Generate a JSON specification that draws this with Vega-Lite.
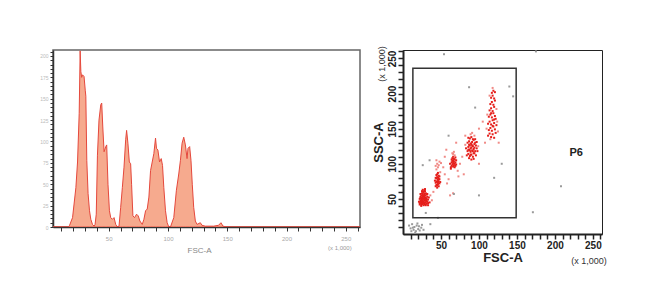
{
  "$schema": "https://vega.github.io/schema/vega-lite/v6.json",
  "background": "white",
  "padding": {"left": 38, "top": 45, "right": 0, "bottom": 0},
  "spacing": 10,
  "config": {
    "view": {"stroke": "#555", "strokeWidth": 1},
    "axis": {"grid": false, "labelFont": "Liberation Sans", "titleFont": "Liberation Sans"},
    "text": {"font": "Liberation Sans"}
  },
  "datasets": {
    "hist": [
      {"fsc": 3, "count": 0}, {"fsc": 16, "count": 0}, {"fsc": 17, "count": 2}, {"fsc": 19.5, "count": 11},
      {"fsc": 22.3, "count": 46}, {"fsc": 23.7, "count": 76}, {"fsc": 25.1, "count": 133}, {"fsc": 25.9, "count": 206},
      {"fsc": 26.5, "count": 182}, {"fsc": 27.2, "count": 175}, {"fsc": 27.9, "count": 178}, {"fsc": 29.2, "count": 176},
      {"fsc": 30.2, "count": 160}, {"fsc": 30.7, "count": 153}, {"fsc": 31.5, "count": 78}, {"fsc": 32.6, "count": 39},
      {"fsc": 33.8, "count": 19}, {"fsc": 34.9, "count": 9}, {"fsc": 36.3, "count": 3}, {"fsc": 37.7, "count": 1},
      {"fsc": 38.5, "count": 3}, {"fsc": 39.5, "count": 15}, {"fsc": 40.5, "count": 84}, {"fsc": 41.8, "count": 125},
      {"fsc": 43.3, "count": 143}, {"fsc": 44.1, "count": 145}, {"fsc": 45, "count": 117}, {"fsc": 46.1, "count": 88},
      {"fsc": 47.5, "count": 94}, {"fsc": 48.3, "count": 96}, {"fsc": 49.4, "count": 50}, {"fsc": 50.6, "count": 19},
      {"fsc": 51.7, "count": 11}, {"fsc": 53.1, "count": 9}, {"fsc": 54.5, "count": 11}, {"fsc": 55.9, "count": 3},
      {"fsc": 57.3, "count": 0}, {"fsc": 58.7, "count": 1}, {"fsc": 60.1, "count": 23}, {"fsc": 61.5, "count": 46},
      {"fsc": 62.9, "count": 70}, {"fsc": 64.3, "count": 102}, {"fsc": 65.1, "count": 113}, {"fsc": 66.2, "count": 98},
      {"fsc": 67.4, "count": 76}, {"fsc": 68.5, "count": 74}, {"fsc": 69.3, "count": 50}, {"fsc": 70.4, "count": 13},
      {"fsc": 71.8, "count": 11}, {"fsc": 73.5, "count": 15}, {"fsc": 74.9, "count": 13}, {"fsc": 76.3, "count": 7},
      {"fsc": 78.3, "count": 3}, {"fsc": 79.7, "count": 9}, {"fsc": 81.1, "count": 19}, {"fsc": 82.5, "count": 21},
      {"fsc": 83.9, "count": 35}, {"fsc": 85.3, "count": 66}, {"fsc": 86.7, "count": 76}, {"fsc": 88.1, "count": 86},
      {"fsc": 89.5, "count": 104}, {"fsc": 90.3, "count": 92}, {"fsc": 91.5, "count": 90}, {"fsc": 92.9, "count": 76},
      {"fsc": 94.3, "count": 80}, {"fsc": 95.4, "count": 72}, {"fsc": 96.5, "count": 46}, {"fsc": 97.9, "count": 19},
      {"fsc": 99.3, "count": 5}, {"fsc": 100.7, "count": 0}, {"fsc": 102.1, "count": 0}, {"fsc": 104.9, "count": 11},
      {"fsc": 107.1, "count": 43}, {"fsc": 109.1, "count": 62}, {"fsc": 110.5, "count": 78}, {"fsc": 111.9, "count": 98},
      {"fsc": 113.3, "count": 105}, {"fsc": 114.7, "count": 96}, {"fsc": 116.1, "count": 80}, {"fsc": 116.9, "count": 92},
      {"fsc": 118.3, "count": 94}, {"fsc": 119.4, "count": 78}, {"fsc": 120.5, "count": 50}, {"fsc": 121.7, "count": 23},
      {"fsc": 123.1, "count": 7}, {"fsc": 124.5, "count": 3}, {"fsc": 127.3, "count": 5}, {"fsc": 128.7, "count": 2},
      {"fsc": 131.5, "count": 1}, {"fsc": 138.5, "count": 1}, {"fsc": 142.7, "count": 2}, {"fsc": 144.7, "count": 5},
      {"fsc": 146.4, "count": 1}, {"fsc": 149.8, "count": 0}, {"fsc": 262, "count": 0}
    ],
    "scatter": [
      {"fsc": 22, "ssc": 44, "pop": "P"}, {"fsc": 23, "ssc": 47, "pop": "P"}, {"fsc": 24, "ssc": 42, "pop": "P"}, {"fsc": 25, "ssc": 45, "pop": "P"},
      {"fsc": 26, "ssc": 43, "pop": "P"}, {"fsc": 27, "ssc": 46, "pop": "P"}, {"fsc": 28, "ssc": 44, "pop": "P"}, {"fsc": 29, "ssc": 42, "pop": "P"},
      {"fsc": 30, "ssc": 45, "pop": "P"}, {"fsc": 31, "ssc": 43, "pop": "P"}, {"fsc": 32, "ssc": 46, "pop": "P"}, {"fsc": 33, "ssc": 44, "pop": "P"},
      {"fsc": 22, "ssc": 50, "pop": "P"}, {"fsc": 23, "ssc": 53, "pop": "P"}, {"fsc": 24, "ssc": 49, "pop": "P"}, {"fsc": 25, "ssc": 52, "pop": "P"},
      {"fsc": 26, "ssc": 50, "pop": "P"}, {"fsc": 27, "ssc": 54, "pop": "P"}, {"fsc": 28, "ssc": 51, "pop": "P"}, {"fsc": 29, "ssc": 48, "pop": "P"},
      {"fsc": 30, "ssc": 52, "pop": "P"}, {"fsc": 31, "ssc": 50, "pop": "P"}, {"fsc": 32, "ssc": 53, "pop": "P"}, {"fsc": 23, "ssc": 57, "pop": "P"},
      {"fsc": 24, "ssc": 55, "pop": "P"}, {"fsc": 25, "ssc": 58, "pop": "P"}, {"fsc": 26, "ssc": 56, "pop": "P"}, {"fsc": 27, "ssc": 59, "pop": "P"},
      {"fsc": 28, "ssc": 57, "pop": "P"}, {"fsc": 29, "ssc": 55, "pop": "P"}, {"fsc": 30, "ssc": 58, "pop": "P"}, {"fsc": 31, "ssc": 56, "pop": "P"},
      {"fsc": 25, "ssc": 61, "pop": "P"}, {"fsc": 26, "ssc": 63, "pop": "P"}, {"fsc": 27, "ssc": 60, "pop": "P"}, {"fsc": 28, "ssc": 62, "pop": "P"},
      {"fsc": 29, "ssc": 61, "pop": "P"}, {"fsc": 24, "ssc": 40, "pop": "P"}, {"fsc": 27, "ssc": 41, "pop": "P"}, {"fsc": 30, "ssc": 41, "pop": "P"},
      {"fsc": 33, "ssc": 49, "pop": "P"}, {"fsc": 34, "ssc": 52, "pop": "P"}, {"fsc": 21, "ssc": 46, "pop": "P"}, {"fsc": 22, "ssc": 42, "pop": "P"},
      {"fsc": 26, "ssc": 47, "pop": "P"}, {"fsc": 28, "ssc": 48, "pop": "P"}, {"fsc": 25, "ssc": 48, "pop": "P"}, {"fsc": 29, "ssc": 51, "pop": "P"},
      {"fsc": 27, "ssc": 50, "pop": "P"}, {"fsc": 24, "ssc": 46, "pop": "P"}, {"fsc": 30, "ssc": 48, "pop": "P"}, {"fsc": 31, "ssc": 47, "pop": "P"},
      {"fsc": 26, "ssc": 54, "pop": "P"}, {"fsc": 28, "ssc": 55, "pop": "P"}, {"fsc": 23, "ssc": 51, "pop": "P"}, {"fsc": 32, "ssc": 57, "pop": "P"},
      {"fsc": 33, "ssc": 41, "pop": "P"}, {"fsc": 35, "ssc": 45, "pop": "P"}, {"fsc": 29, "ssc": 64, "pop": "P"}, {"fsc": 26, "ssc": 45, "pop": "P"},
      {"fsc": 23, "ssc": 44, "pop": "P"}, {"fsc": 25, "ssc": 43, "pop": "P"}, {"fsc": 27, "ssc": 44, "pop": "P"}, {"fsc": 29, "ssc": 45, "pop": "P"},
      {"fsc": 24, "ssc": 51, "pop": "P"}, {"fsc": 26, "ssc": 52, "pop": "P"}, {"fsc": 28, "ssc": 53, "pop": "P"}, {"fsc": 30, "ssc": 50, "pop": "P"},
      {"fsc": 43, "ssc": 68, "pop": "P"}, {"fsc": 44, "ssc": 70, "pop": "P"}, {"fsc": 45, "ssc": 69, "pop": "P"}, {"fsc": 46, "ssc": 71, "pop": "P"},
      {"fsc": 47, "ssc": 68, "pop": "P"}, {"fsc": 48, "ssc": 72, "pop": "P"}, {"fsc": 43, "ssc": 73, "pop": "P"}, {"fsc": 44, "ssc": 75, "pop": "P"},
      {"fsc": 45, "ssc": 74, "pop": "P"}, {"fsc": 46, "ssc": 77, "pop": "P"}, {"fsc": 47, "ssc": 75, "pop": "P"}, {"fsc": 48, "ssc": 78, "pop": "P"},
      {"fsc": 44, "ssc": 79, "pop": "P"}, {"fsc": 45, "ssc": 81, "pop": "P"}, {"fsc": 46, "ssc": 80, "pop": "P"}, {"fsc": 47, "ssc": 83, "pop": "P"},
      {"fsc": 45, "ssc": 85, "pop": "P"}, {"fsc": 46, "ssc": 87, "pop": "P"}, {"fsc": 44, "ssc": 84, "pop": "P"}, {"fsc": 42, "ssc": 76, "pop": "P"},
      {"fsc": 49, "ssc": 74, "pop": "P"}, {"fsc": 48, "ssc": 82, "pop": "P"}, {"fsc": 45, "ssc": 66, "pop": "P"}, {"fsc": 47, "ssc": 79, "pop": "P"},
      {"fsc": 46, "ssc": 73, "pop": "P"}, {"fsc": 43, "ssc": 80, "pop": "P"}, {"fsc": 49, "ssc": 88, "pop": "s"}, {"fsc": 44, "ssc": 92, "pop": "s"},
      {"fsc": 46, "ssc": 95, "pop": "s"}, {"fsc": 45, "ssc": 100, "pop": "s"}, {"fsc": 48, "ssc": 103, "pop": "s"}, {"fsc": 44, "ssc": 105, "pop": "s"},
      {"fsc": 47, "ssc": 98, "pop": "s"}, {"fsc": 50, "ssc": 101, "pop": "s"}, {"fsc": 43, "ssc": 97, "pop": "s"},
      {"fsc": 63, "ssc": 95, "pop": "P"}, {"fsc": 64, "ssc": 97, "pop": "P"}, {"fsc": 65, "ssc": 99, "pop": "P"}, {"fsc": 66, "ssc": 96, "pop": "P"},
      {"fsc": 67, "ssc": 98, "pop": "P"}, {"fsc": 68, "ssc": 100, "pop": "P"}, {"fsc": 69, "ssc": 97, "pop": "P"}, {"fsc": 64, "ssc": 102, "pop": "P"},
      {"fsc": 65, "ssc": 104, "pop": "P"}, {"fsc": 66, "ssc": 101, "pop": "P"}, {"fsc": 67, "ssc": 103, "pop": "P"}, {"fsc": 68, "ssc": 106, "pop": "P"},
      {"fsc": 69, "ssc": 102, "pop": "P"}, {"fsc": 65, "ssc": 108, "pop": "P"}, {"fsc": 66, "ssc": 110, "pop": "P"}, {"fsc": 67, "ssc": 107, "pop": "P"},
      {"fsc": 68, "ssc": 112, "pop": "s"}, {"fsc": 66, "ssc": 114, "pop": "s"}, {"fsc": 67, "ssc": 117, "pop": "s"}, {"fsc": 65, "ssc": 115, "pop": "s"},
      {"fsc": 62, "ssc": 100, "pop": "P"}, {"fsc": 70, "ssc": 105, "pop": "P"}, {"fsc": 63, "ssc": 93, "pop": "P"}, {"fsc": 69, "ssc": 109, "pop": "P"},
      {"fsc": 64, "ssc": 106, "pop": "P"}, {"fsc": 66, "ssc": 105, "pop": "P"}, {"fsc": 68, "ssc": 95, "pop": "P"}, {"fsc": 70, "ssc": 99, "pop": "P"},
      {"fsc": 84, "ssc": 112, "pop": "P"}, {"fsc": 86, "ssc": 114, "pop": "P"}, {"fsc": 88, "ssc": 111, "pop": "P"}, {"fsc": 90, "ssc": 113, "pop": "P"},
      {"fsc": 92, "ssc": 110, "pop": "P"}, {"fsc": 94, "ssc": 115, "pop": "P"}, {"fsc": 96, "ssc": 112, "pop": "P"}, {"fsc": 85, "ssc": 118, "pop": "P"},
      {"fsc": 87, "ssc": 120, "pop": "P"}, {"fsc": 89, "ssc": 117, "pop": "P"}, {"fsc": 91, "ssc": 119, "pop": "P"}, {"fsc": 93, "ssc": 121, "pop": "P"},
      {"fsc": 95, "ssc": 118, "pop": "P"}, {"fsc": 97, "ssc": 122, "pop": "P"}, {"fsc": 86, "ssc": 124, "pop": "P"}, {"fsc": 88, "ssc": 126, "pop": "P"},
      {"fsc": 90, "ssc": 123, "pop": "P"}, {"fsc": 92, "ssc": 125, "pop": "P"}, {"fsc": 94, "ssc": 128, "pop": "P"}, {"fsc": 96, "ssc": 126, "pop": "P"},
      {"fsc": 85, "ssc": 130, "pop": "P"}, {"fsc": 87, "ssc": 132, "pop": "P"}, {"fsc": 89, "ssc": 129, "pop": "P"}, {"fsc": 91, "ssc": 131, "pop": "P"},
      {"fsc": 93, "ssc": 134, "pop": "P"}, {"fsc": 95, "ssc": 130, "pop": "P"}, {"fsc": 88, "ssc": 136, "pop": "P"}, {"fsc": 90, "ssc": 138, "pop": "P"},
      {"fsc": 92, "ssc": 135, "pop": "P"}, {"fsc": 94, "ssc": 140, "pop": "s"}, {"fsc": 89, "ssc": 142, "pop": "s"}, {"fsc": 91, "ssc": 144, "pop": "s"},
      {"fsc": 83, "ssc": 122, "pop": "P"}, {"fsc": 98, "ssc": 118, "pop": "P"}, {"fsc": 99, "ssc": 125, "pop": "s"}, {"fsc": 82, "ssc": 127, "pop": "s"},
      {"fsc": 87, "ssc": 108, "pop": "P"}, {"fsc": 90, "ssc": 106, "pop": "P"}, {"fsc": 93, "ssc": 107, "pop": "P"}, {"fsc": 86, "ssc": 120, "pop": "P"},
      {"fsc": 89, "ssc": 122, "pop": "P"}, {"fsc": 91, "ssc": 126, "pop": "P"}, {"fsc": 92, "ssc": 118, "pop": "P"}, {"fsc": 88, "ssc": 119, "pop": "P"},
      {"fsc": 90, "ssc": 128, "pop": "P"}, {"fsc": 94, "ssc": 123, "pop": "P"}, {"fsc": 87, "ssc": 127, "pop": "P"}, {"fsc": 93, "ssc": 115, "pop": "P"},
      {"fsc": 89, "ssc": 113, "pop": "P"}, {"fsc": 95, "ssc": 135, "pop": "P"}, {"fsc": 86, "ssc": 137, "pop": "P"}, {"fsc": 97, "ssc": 131, "pop": "P"},
      {"fsc": 112, "ssc": 140, "pop": "P"}, {"fsc": 114, "ssc": 143, "pop": "P"}, {"fsc": 116, "ssc": 138, "pop": "P"}, {"fsc": 118, "ssc": 142, "pop": "P"},
      {"fsc": 120, "ssc": 137, "pop": "P"}, {"fsc": 122, "ssc": 144, "pop": "P"}, {"fsc": 113, "ssc": 148, "pop": "P"}, {"fsc": 115, "ssc": 151, "pop": "P"},
      {"fsc": 117, "ssc": 147, "pop": "P"}, {"fsc": 119, "ssc": 153, "pop": "P"}, {"fsc": 121, "ssc": 149, "pop": "P"}, {"fsc": 123, "ssc": 155, "pop": "P"},
      {"fsc": 112, "ssc": 157, "pop": "P"}, {"fsc": 114, "ssc": 160, "pop": "P"}, {"fsc": 116, "ssc": 156, "pop": "P"}, {"fsc": 118, "ssc": 162, "pop": "P"},
      {"fsc": 120, "ssc": 158, "pop": "P"}, {"fsc": 122, "ssc": 164, "pop": "P"}, {"fsc": 113, "ssc": 167, "pop": "P"}, {"fsc": 115, "ssc": 170, "pop": "P"},
      {"fsc": 117, "ssc": 166, "pop": "P"}, {"fsc": 119, "ssc": 172, "pop": "P"}, {"fsc": 121, "ssc": 168, "pop": "P"}, {"fsc": 114, "ssc": 176, "pop": "P"},
      {"fsc": 116, "ssc": 179, "pop": "P"}, {"fsc": 118, "ssc": 175, "pop": "P"}, {"fsc": 120, "ssc": 181, "pop": "P"}, {"fsc": 115, "ssc": 185, "pop": "P"},
      {"fsc": 117, "ssc": 188, "pop": "P"}, {"fsc": 119, "ssc": 184, "pop": "P"}, {"fsc": 121, "ssc": 190, "pop": "P"}, {"fsc": 116, "ssc": 194, "pop": "P"},
      {"fsc": 118, "ssc": 197, "pop": "P"}, {"fsc": 120, "ssc": 193, "pop": "P"}, {"fsc": 117, "ssc": 201, "pop": "P"}, {"fsc": 119, "ssc": 204, "pop": "P"},
      {"fsc": 118, "ssc": 208, "pop": "s"}, {"fsc": 114, "ssc": 197, "pop": "s"}, {"fsc": 121, "ssc": 202, "pop": "P"}, {"fsc": 110, "ssc": 150, "pop": "s"},
      {"fsc": 124, "ssc": 160, "pop": "s"}, {"fsc": 111, "ssc": 170, "pop": "s"}, {"fsc": 123, "ssc": 178, "pop": "s"}, {"fsc": 125, "ssc": 146, "pop": "s"},
      {"fsc": 116, "ssc": 172, "pop": "P"}, {"fsc": 118, "ssc": 154, "pop": "P"}, {"fsc": 115, "ssc": 135, "pop": "s"}, {"fsc": 120, "ssc": 163, "pop": "P"},
      {"fsc": 40, "ssc": 60, "pop": "s"}, {"fsc": 55, "ssc": 85, "pop": "s"}, {"fsc": 58, "ssc": 72, "pop": "s"}, {"fsc": 60, "ssc": 78, "pop": "s"},
      {"fsc": 62, "ssc": 55, "pop": "s"}, {"fsc": 66, "ssc": 58, "pop": "s"}, {"fsc": 72, "ssc": 90, "pop": "s"}, {"fsc": 75, "ssc": 100, "pop": "s"},
      {"fsc": 78, "ssc": 110, "pop": "s"}, {"fsc": 80, "ssc": 85, "pop": "s"}, {"fsc": 73, "ssc": 82, "pop": "s"}, {"fsc": 82, "ssc": 140, "pop": "s"},
      {"fsc": 100, "ssc": 150, "pop": "s"}, {"fsc": 105, "ssc": 160, "pop": "s"}, {"fsc": 108, "ssc": 130, "pop": "s"}, {"fsc": 126, "ssc": 130, "pop": "s"},
      {"fsc": 100, "ssc": 100, "pop": "s"}, {"fsc": 70, "ssc": 130, "pop": "s"}, {"fsc": 55, "ssc": 110, "pop": "s"}, {"fsc": 53, "ssc": 95, "pop": "s"},
      {"fsc": 36, "ssc": 55, "pop": "s"}, {"fsc": 38, "ssc": 48, "pop": "s"}, {"fsc": 57, "ssc": 120, "pop": "s"},
      {"fsc": 8, "ssc": 12, "pop": "o"}, {"fsc": 10, "ssc": 8, "pop": "o"}, {"fsc": 12, "ssc": 14, "pop": "o"}, {"fsc": 14, "ssc": 6, "pop": "o"},
      {"fsc": 15, "ssc": 10, "pop": "o"}, {"fsc": 17, "ssc": 4, "pop": "o"}, {"fsc": 18, "ssc": 12, "pop": "o"}, {"fsc": 20, "ssc": 7, "pop": "o"},
      {"fsc": 22, "ssc": 5, "pop": "o"}, {"fsc": 24, "ssc": 9, "pop": "o"}, {"fsc": 11, "ssc": 4, "pop": "o"}, {"fsc": 25, "ssc": 13, "pop": "o"},
      {"fsc": 19, "ssc": 15, "pop": "o"}, {"fsc": 13, "ssc": 9, "pop": "o"}, {"fsc": 27, "ssc": 6, "pop": "o"}, {"fsc": 16, "ssc": 2, "pop": "o"},
      {"fsc": 21, "ssc": 11, "pop": "o"}, {"fsc": 171, "ssc": 31, "pop": "o"}, {"fsc": 208, "ssc": 68, "pop": "o"}, {"fsc": 54, "ssc": 256, "pop": "o"},
      {"fsc": 175, "ssc": 260, "pop": "o"}, {"fsc": 26, "ssc": 98, "pop": "o"}, {"fsc": 87, "ssc": 209, "pop": "o"}, {"fsc": 145, "ssc": 196, "pop": "o"},
      {"fsc": 46, "ssc": 23, "pop": "o"}, {"fsc": 36, "ssc": 14, "pop": "o"}, {"fsc": 67, "ssc": 57, "pop": "o"}, {"fsc": 30, "ssc": 30, "pop": "o"},
      {"fsc": 120, "ssc": 80, "pop": "o"}, {"fsc": 100, "ssc": 55, "pop": "o"}, {"fsc": 140, "ssc": 210, "pop": "o"}, {"fsc": 35, "ssc": 105, "pop": "o"},
      {"fsc": 60, "ssc": 140, "pop": "o"}, {"fsc": 95, "ssc": 180, "pop": "o"}, {"fsc": 130, "ssc": 100, "pop": "o"}
    ],
    "gate": [{"x1": 13, "x2": 149, "y1": 23, "y2": 236, "name": "P6", "lx": 228, "ly": 115}],
    "notes": [{"unit": "(x 1,000)"}]
  },
  "hconcat": [
    {
      "width": 307,
      "height": 177,
      "view": {"stroke": "#666", "strokeWidth": 1.5},
      "layer": [
        {
          "data": {"name": "hist"},
          "mark": {"type": "area", "fill": "#f6aa8e", "stroke": "#e5483c", "strokeWidth": 1, "clip": true},
          "encoding": {
            "x": {
              "field": "fsc", "type": "quantitative",
              "scale": {"domain": [3, 262], "nice": false, "zero": false},
              "axis": {
                "values": [10, 20, 30, 40, 50, 60, 70, 80, 90, 100, 110, 120, 130, 140, 150, 160, 170, 180, 190, 200, 210, 220, 230, 240, 250, 260],
                "tickCount": 200,
                "labelExpr": "datum.value % 50 == 0 ? datum.label : ''",
                "labelOverlap": false, "labelBound": false, "labelFlush": false,
                "tickSize": 4, "tickColor": "#333", "domainColor": "#333", "domainWidth": 1.5,
                "labelFontSize": 6, "labelColor": "#aaa", "labelPadding": 4,
                "title": "FSC-A", "titleFontSize": 8, "titleColor": "#888", "titleFontWeight": "normal", "titlePadding": 5, "titleX": 146
              }
            },
            "y": {
              "field": "count", "type": "quantitative",
              "scale": {"domain": [0, 207], "nice": false},
              "axis": {
                "values": [0, 5, 10, 15, 20, 25, 30, 35, 40, 45, 50, 55, 60, 65, 70, 75, 80, 85, 90, 95, 100, 105, 110, 115, 120, 125, 130, 135, 140, 145, 150, 155, 160, 165, 170, 175, 180, 185, 190, 195, 200, 205],
                "tickCount": 200,
                "labelExpr": "datum.value % 25 == 0 ? datum.label : ''",
                "labelOverlap": false, "labelBound": false, "labelFlush": false,
                "tickSize": 3, "tickColor": "#333", "domainColor": "#333", "domainWidth": 1.5,
                "labelFontSize": 5, "labelColor": "#bbb", "labelPadding": 2,
                "title": null
              }
            }
          }
        },
        {
          "data": {"name": "notes"},
          "mark": {"type": "text", "fontSize": 6, "color": "#999"},
          "encoding": {"x": {"datum": 245}, "y": {"datum": -24}, "text": {"field": "unit"}}
        }
      ]
    },
    {
      "width": 199,
      "height": 184,
      "view": {"stroke": "#222", "strokeWidth": 1},
      "layer": [
        {
          "data": {"name": "scatter"},
          "mark": {"type": "square", "size": 4, "opacity": 1},
          "encoding": {
            "x": {
              "field": "fsc", "type": "quantitative",
              "scale": {"domain": [0, 262], "nice": false, "zero": false},
              "axis": {
                "values": [10, 20, 30, 40, 50, 60, 70, 80, 90, 100, 110, 120, 130, 140, 150, 160, 170, 180, 190, 200, 210, 220, 230, 240, 250, 260],
                "tickCount": 200,
                "labelExpr": "datum.value % 50 == 0 ? datum.label : ''",
                "labelOverlap": false, "labelBound": false, "labelFlush": false,
                "tickSize": 5, "tickWidth": 1.5, "tickColor": "#222", "domainColor": "#222", "domainWidth": 2,
                "labelFontSize": 10, "labelFontWeight": "bold", "labelColor": "#222", "labelPadding": 1,
                "title": "FSC-A", "titleFontSize": 13, "titleColor": "#222", "titleFontWeight": "bold", "titlePadding": 1
              }
            },
            "y": {
              "field": "ssc", "type": "quantitative",
              "scale": {"domain": [0, 262], "nice": false, "zero": false},
              "axis": {
                "values": [10, 20, 30, 40, 50, 60, 70, 80, 90, 100, 110, 120, 130, 140, 150, 160, 170, 180, 190, 200, 210, 220, 230, 240, 250, 260],
                "tickCount": 200,
                "labelExpr": "datum.value % 50 == 0 ? datum.label : ''",
                "labelOverlap": false, "labelBound": false, "labelFlush": false,
                "tickSize": 5, "tickWidth": 1.5, "tickColor": "#222", "domainColor": "#222", "domainWidth": 2,
                "labelFontSize": 10, "labelFontWeight": "bold", "labelColor": "#222", "labelPadding": 1,
                "labelAngle": 270, "labelAlign": "center", "labelBaseline": "bottom",
                "title": "SSC-A", "titleFontSize": 13, "titleColor": "#222", "titleFontWeight": "bold", "titlePadding": 2
              }
            },
            "color": {
              "field": "pop", "type": "nominal",
              "scale": {"domain": ["P", "s", "o"], "range": ["#e51f1b", "#f08a86", "#9a9a9a"]},
              "legend": null
            }
          }
        },
        {
          "data": {"name": "gate"},
          "mark": {"type": "rect", "fill": null, "fillOpacity": 0, "stroke": "#333", "strokeWidth": 1.5},
          "encoding": {
            "x": {"field": "x1", "type": "quantitative"},
            "x2": {"field": "x2"},
            "y": {"field": "y1", "type": "quantitative"},
            "y2": {"field": "y2"}
          }
        },
        {
          "data": {"name": "gate"},
          "mark": {"type": "text", "fontSize": 11, "color": "#222", "fontWeight": "bold"},
          "encoding": {
            "x": {"field": "lx", "type": "quantitative"},
            "y": {"field": "ly", "type": "quantitative"},
            "text": {"field": "name"}
          }
        },
        {
          "data": {"name": "notes"},
          "mark": {"type": "text", "fontSize": 9, "color": "#333"},
          "encoding": {"x": {"datum": 245}, "y": {"datum": -38}, "text": {"field": "unit"}}
        },
        {
          "data": {"name": "notes"},
          "mark": {"type": "text", "fontSize": 9, "color": "#333", "angle": 270},
          "encoding": {"x": {"datum": -28}, "y": {"datum": 242}, "text": {"field": "unit"}}
        }
      ]
    }
  ]
}
